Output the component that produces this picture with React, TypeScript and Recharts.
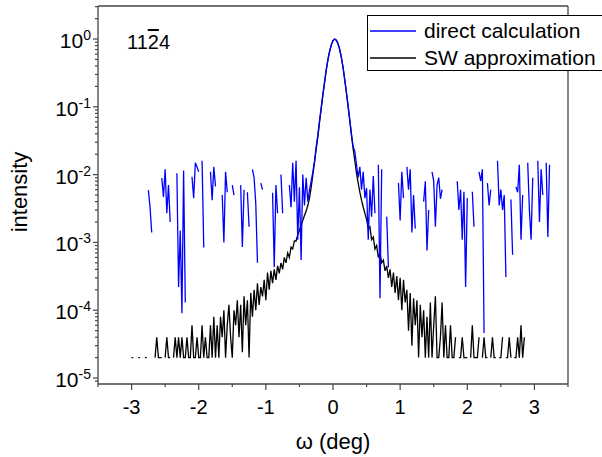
import React from 'react';
import { LineChart, Line, XAxis, YAxis, Legend, ReferenceLine } from 'recharts';

const N = null;
const FONT = '"Liberation Sans", Arial, Helvetica, sans-serif';
const axisColor = '#444';

// omega grid in deg: -3.000 ... 3.250, step 0.025 (251 samples, 10 per row)
const omegaStart = -3.0;
const omegaStep = 0.025;

// SW approximation (black)
const swApprox: (number | null)[] = [
  2e-5, 2e-5, N, N, 2e-5, 2e-5, N, N, 2e-5, 2e-5, // -3.00
  N, N, N, N, 2e-5, 4e-5, 2e-5, 2e-5, 2e-5, N, // -2.75
  2e-5, 4e-5, 2e-5, 2e-5, N, 2e-5, 4e-5, 2e-5, 4e-5, 2e-5, // -2.50
  4e-5, 2e-5, 2e-5, 4e-5, 2e-5, 2e-5, 6e-5, 2e-5, 2e-5, 4e-5, // -2.25
  2e-5, 2e-5, 6e-5, 2e-5, 4e-5, 2e-5, 2e-5, 6e-5, 2e-5, 8e-5, // -2.00
  2e-5, 6e-5, 2e-5, 8e-5, 4e-5, 1e-4, 2e-5, 6e-5, 1.2e-4, 4e-5, // -1.75
  2e-5, 1e-4, 6e-5, 1.4e-4, 4e-5, 1.2e-4, 2.4e-5, 1.6e-4, 6e-5, 1.4e-4, // -1.50
  2e-5, 1.8e-4, 8e-5, 2e-4, 1e-4, 2.5e-4, 1.2e-4, 2.2e-4, 1.6e-4, 2.8e-4, // -1.25
  1.4e-4, 3.6e-4, 2e-4, 3.8e-4, 2.5e-4, 4e-4, 2.8e-4, 4.5e-4, 3.5e-4, 5e-4, // -1.00
  4e-4, 6e-4, 5e-4, 7e-4, 6e-4, 8.5e-4, 8e-4, 1.05e-3, 1.05e-3, 1.3e-3, // -0.75
  1.5e-3, 1.8e-3, 2.1e-3, 2.5e-3, 2.9e-3, 3.5e-3, 4.5e-3, 6.5e-3, 1.0e-2, 1.5e-2, // -0.50
  2.4e-2, 3.6e-2, 6.0e-2, 9.5e-2, 0.15, 0.23, 0.35, 0.5, 0.66, 0.82, // -0.25
  0.95, 1.0, 0.96, 0.85, 0.7, 0.53, 0.38, 0.25, 0.16, 0.1, // 0.00
  6.2e-2, 3.8e-2, 2.4e-2, 1.6e-2, 1.05e-2, 7.5e-3, 5.5e-3, 4.2e-3, 3.3e-3, 2.7e-3, // 0.25
  2.2e-3, 1.6e-3, 1.7e-3, 1.1e-3, 1.2e-3, 8e-4, 9e-4, 6e-4, 7e-4, 5e-4, // 0.50
  5.5e-4, 3.8e-4, 4.5e-4, 3e-4, 4e-4, 2.2e-4, 3.6e-4, 1.8e-4, 3.2e-4, 1.4e-4, // 0.75
  3e-4, 1e-4, 2.8e-4, 1.3e-4, 2e-4, 5e-5, 1.8e-4, 3e-5, 1.5e-4, 6e-5, // 1.00
  1.4e-4, 2e-5, 1.2e-4, 4e-5, 1e-4, 2e-5, 8e-5, 2e-5, 1.3e-4, 2e-5, // 1.25
  6e-5, 1.6e-4, 2e-5, 2e-5, 4e-5, 1.3e-4, 2e-5, 6e-5, 2e-5, 2e-5, // 1.50
  6e-5, 2e-5, 2e-5, 4e-5, N, 2e-5, 2e-5, 4e-5, 2e-5, 2e-5, // 1.75
  2e-5, N, 2e-5, 6e-5, 2e-5, 2e-5, 2e-5, 4e-5, N, 2e-5, // 2.00
  4e-5, 2e-5, 2e-5, N, 2e-5, 4e-5, 2e-5, 2e-5, N, 2e-5, // 2.25
  2e-5, 4e-5, N, 2e-5, 2e-5, 4e-5, 2e-5, N, 2e-5, 2e-5, // 2.50
  4e-5, 2e-5, 6e-5, 2e-5, 4e-5, N, N, N, N, N, // 2.75
  N, N, N, N, N, N, N, N, N, N, // 3.00
  N, // 3.25
];

// direct calculation (blue)
const directCalc: (number | null)[] = [
  N, N, N, N, N, N, N, N, N, N, // -3.00
  5.9e-3, 3.3e-3, 1.4e-3, N, N, N, N, N, 8.9e-3, 4.7e-3, // -2.75
  1.2e-2, 2.7e-3, 7e-3, 2e-3, N, N, N, 1.05e-2, 2.2e-4, 1.5e-3, // -2.50
  9e-5, 1.15e-2, 1.3e-4, N, N, N, 9.3e-3, 4.5e-3, 1.5e-2, 1.3e-2, // -2.25
  1.1e-2, N, 1.6e-2, 8.4e-4, N, N, N, 1.1e-2, 4.2e-3, 1.3e-2, // -2.00
  6.7e-3, N, N, N, 5e-3, 1e-3, 1.1e-2, 5.5e-3, N, N, // -1.75
  7e-3, 5e-3, N, N, N, 7e-3, 8.6e-4, 6e-3, N, 5.5e-3, // -1.50
  1.7e-3, N, 1.2e-2, 9e-3, 3.7e-3, 5e-4, N, 7.5e-3, 6e-3, N, // -1.25
  N, N, N, N, 5.4e-3, 4.3e-4, 7e-3, 2.7e-3, N, 1e-2, // -1.00
  2.7e-3, N, N, N, 7e-3, 3.3e-3, 1.5e-2, 4e-3, 1.6e-2, 1.1e-3, // -0.75
  6.5e-3, 5.5e-4, 1e-2, 3.5e-3, 9e-3, 4e-3, 6e-3, 8e-3, 1.1e-2, 1.6e-2, // -0.50
  2.6e-2, 3.9e-2, 6.3e-2, 9.8e-2, 0.155, 0.235, 0.355, 0.5, 0.66, 0.82, // -0.25
  0.95, 1.0, 0.96, 0.85, 0.7, 0.53, 0.38, 0.25, 0.165, 0.105, // 0.00
  6.5e-2, 4e-2, 2.6e-2, 2.2e-2, 1.4e-2, 9e-3, 1.3e-2, 6e-3, 1.1e-2, 4.5e-3, // 0.25
  6.3e-3, 1.1e-3, 6e-3, 2.4e-3, 9.5e-3, 2.7e-3, N, 1.4e-2, 1.5e-4, 1.2e-2, // 0.50
  N, N, 2.4e-3, 4.3e-4, N, N, N, N, N, 7.5e-3, // 0.75
  2.1e-3, 1.1e-2, 4.5e-3, N, 1.3e-2, 6e-3, 1.2e-2, 1.4e-3, 5e-3, 1.6e-3, // 1.00
  N, N, N, N, 4e-3, 8e-3, 7.6e-4, 3e-3, N, 1.1e-2, // 1.25
  8e-3, 1.7e-3, 7e-3, 9e-3, 4.4e-3, 6e-3, N, N, N, N, // 1.50
  N, N, N, N, 8e-3, 3e-3, 6e-3, 1.1e-3, 5.6e-3, 2.2e-4, // 1.75
  4.5e-3, N, N, 5.6e-3, 1.7e-3, N, N, 1.1e-2, 8e-3, 1.2e-2, // 2.00
  4.6e-5, N, 7.5e-3, 3.5e-3, 6e-3, N, N, N, 1.6e-2, 3.5e-3, // 2.25
  6e-3, 3e-3, 5e-3, 3.1e-4, N, N, 4.3e-3, 6.6e-4, N, 6.6e-3, // 2.50
  5.5e-3, 1.4e-2, 1.1e-3, 5e-3, N, N, 1.5e-2, 3e-3, 1.1e-3, 9e-3, // 2.75
  N, N, 1.6e-2, 2e-3, 1.2e-2, 5e-3, N, 1.5e-2, 1.2e-3, 1.4e-2, // 3.00
  N, // 3.25
];

const xDomain = [-3.5, 3.5];
const yDomain = [8.16e-6, 3.07];
const xTicks = [-3.5, -3, -2.5, -2, -1.5, -1, -0.5, 0, 0.5, 1, 1.5, 2, 2.5, 3, 3.5];
const decadeExps = [-6, -5, -4, -3, -2, -1, 0];
const mantissas = [1, 2, 3, 4, 5, 6, 7, 8, 9];

const yTicks = decadeExps
  .flatMap(e => mantissas.map(m => m * Math.pow(10, e)))
  .filter(v => v >= yDomain[0] && v <= yDomain[1]);

const XTick = (props: any) => {
  const { x, y, payload } = props;
  const v = payload.value;
  const major = Number.isInteger(v);
  return (
    <g>
      <line x1={x} x2={x} y1={y} y2={y + (major ? 6 : 3)} stroke={axisColor} strokeWidth={1.2} />
      {major && (
        <text x={x} y={y + 30} textAnchor="middle" fontSize={20} fontFamily={FONT} fill="#000">
          {String(v)}
        </text>
      )}
    </g>
  );
};

const YTick = (props: any) => {
  const { x, y, payload } = props;
  const lg = Math.log10(payload.value);
  const exp = Math.round(lg);
  const major = Math.abs(lg - exp) < 1e-6;
  return (
    <g>
      <line x1={x - (major ? 5 : 3)} x2={x} y1={y} y2={y} stroke={axisColor} strokeWidth={1.2} />
      {major && (
        <text x={x - 7} y={y + 9} textAnchor="end" fontSize={21} fontFamily={FONT} fill="#000">
          10<tspan dy={-8} fontSize={14}>{String(exp)}</tspan>
        </text>
      )}
    </g>
  );
};

const LegendBox = (props: any) => {
  const items = [...(props.payload || [])].reverse();
  return (
    <div
      style={{
        width: 250,
        height: 56,
        boxSizing: 'border-box',
        border: '1px solid #000',
        background: '#fff',
        paddingTop: 1,
        fontFamily: FONT,
        fontSize: 21,
      }}
    >
      {items.map((item: any) => (
        <div key={item.value} style={{ display: 'flex', alignItems: 'center', height: 27 }}>
          <svg width={54} height={4} style={{ marginLeft: 2 }}>
            <line x1={0} x2={46} y1={2} y2={2} stroke={item.color} strokeWidth={1.5} />
          </svg>
          <span style={{ color: '#000', whiteSpace: 'nowrap' }}>{item.value}</span>
        </div>
      ))}
    </div>
  );
};

export default function App() {
  const data = swApprox.map((v, i) => ({
    w: omegaStart + omegaStep * i,
    sw: v,
    direct: directCalc[i],
  }));

  return (
    <div
      style={{
        position: 'absolute',
        left: 0,
        top: 0,
        width: 602,
        height: 457,
        overflow: 'hidden',
        background: '#fff',
        fontFamily: FONT,
      }}
    >
      <LineChart width={602} height={457} data={data} margin={{ top: 6, right: 34, bottom: 0, left: 0 }}>
        <XAxis
          dataKey="w"
          type="number"
          domain={xDomain}
          allowDataOverflow
          ticks={xTicks}
          interval={0}
          tickSize={0}
          tickMargin={0}
          tickLine={false}
          tick={<XTick />}
          height={73}
          axisLine={{ stroke: axisColor, strokeWidth: 1.3 }}
          label={(p: any) => {
            const vb = p.viewBox || { x: 98, y: 384, width: 470 };
            return (
              <text x={vb.x + vb.width / 2} y={vb.y + 65} textAnchor="middle" fontSize={22} fontFamily={FONT} fill="#000">
                ω (deg)
              </text>
            );
          }}
        />
        <YAxis
          type="number"
          scale="log"
          domain={yDomain}
          allowDataOverflow
          ticks={yTicks}
          interval={0}
          tickSize={0}
          tickMargin={0}
          tickLine={false}
          tick={<YTick />}
          width={98}
          axisLine={{ stroke: axisColor, strokeWidth: 1.3 }}
          label={() => (
            <text x={27} y={192} transform="rotate(-90, 27, 192)" textAnchor="middle" fontSize={22} fontFamily={FONT} fill="#000">
              intensity
            </text>
          )}
        />
        <ReferenceLine y={yDomain[1]} stroke={axisColor} strokeWidth={1.3} />
        <ReferenceLine x={xDomain[1]} stroke={axisColor} strokeWidth={1.3} />
        <Line
          dataKey="sw"
          name="SW approximation"
          type="linear"
          stroke="#000000"
          strokeWidth={1.3}
          dot={false}
          isAnimationActive={false}
        />
        <Line
          dataKey="direct"
          name="direct calculation"
          type="linear"
          stroke="#0000ff"
          strokeWidth={1.3}
          dot={false}
          isAnimationActive={false}
        />
        <Legend
          layout="vertical"
          align="center"
          verticalAlign="middle"
          content={<LegendBox />}
          wrapperStyle={{ position: 'absolute', left: 367, top: 15, width: 'auto', height: 'auto' }}
        />
      </LineChart>
      <div
        style={{
          position: 'absolute',
          left: 127,
          top: 32,
          fontSize: 20,
          lineHeight: '20px',
          color: '#000',
          whiteSpace: 'nowrap',
        }}
      >
        11<span style={{ textDecoration: 'overline' }}>2</span>4
      </div>
    </div>
  );
}
